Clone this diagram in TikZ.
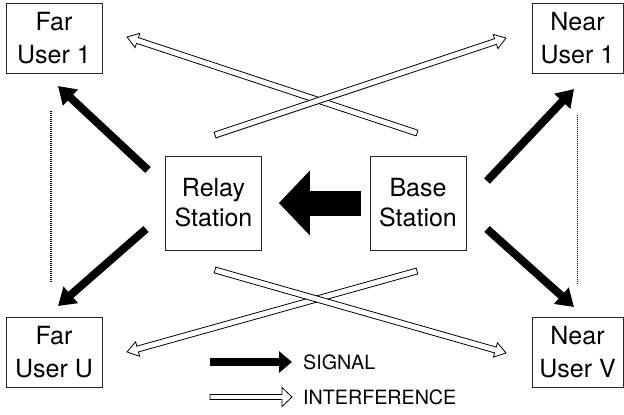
\documentclass[tikz,border=0pt]{standalone}
\usepackage{fontspec}
\setmainfont{TeX Gyre Heros}
\usetikzlibrary{arrows.meta,calc}

\begin{document}
\begin{tikzpicture}[
  x=1bp, y=-1bp,
  box/.style={rectangle, draw=black!85, line width=0.7bp, align=center, inner sep=0pt},
  user/.style={box, minimum height=70bp, font=\fontsize{25bp}{33bp}\selectfont},
  station/.style={box, minimum width=96bp, minimum height=94bp, font=\fontsize{25bp}{30bp}\selectfont},
  sig/.style={line width=8bp, -{Triangle[length=17bp, width=21bp]}},
  bigsig/.style={line width=25bp, -{Triangle[length=31bp, width=63bp]}},
  interf/.style={line width=0.8bp, fill=white, line join=miter},
  dots/.style={line width=1.3bp, dash pattern=on 1bp off 1bp},
  legend/.style={anchor=west, inner sep=0pt, font=\fontsize{19.7bp}{22bp}\selectfont},
]
\useasboundingbox (0,0) rectangle (624,414);

% users and stations
\node[user, minimum width=96bp] (fu1) at (54,38)    {Far\\User 1};
\node[user, minimum width=91bp] (nu1) at (577.5,38) {Near\\User 1};
\node[user, minimum width=96bp] (fuU) at (54,352)   {Far\\User U};
\node[user, minimum width=91bp] (nuV) at (577.5,352){Near\\User V};
\node[station] (rs) at (213.5,203) {Relay\\Station};
\node[station] (bs) at (418,203)   {Base\\Station};

% base -> relay link
\draw[bigsig, shorten <=9bp, shorten >=17bp] (bs.west) -- (rs.east);

% signal ends
\coordinate (rs1) at (148,170); \coordinate (fu1s) at (58,86);
\coordinate (rs2) at (146,229); \coordinate (fuUs) at (58,306);
\coordinate (bs1) at (487,181); \coordinate (nu1s) at (574,89);
\coordinate (bs2) at (487,229); \coordinate (nuVs) at (574,307);
\foreach \a/\b in {rs1/fu1s, rs2/fuUs, bs1/nu1s, bs2/nuVs}
  \draw[sig] (\a) -- (\b);

% interference ends
\coordinate (bs3) at (417,133); \coordinate (fu1i) at (127,37);
\coordinate (rs3) at (215,135); \coordinate (nu1i) at (506,38);
\coordinate (bs4) at (417,271); \coordinate (fuUi) at (127,352);
\coordinate (rs4) at (215,270); \coordinate (nuVi) at (506,353);
\foreach \a/\b in {bs3/fu1i, rs3/nu1i, bs4/fuUi, rs4/nuVi}
  \draw[interf] let \p1=(\a), \p2=(\b), \n1={atan2(\y2-\y1,\x2-\x1)},
      \n2={veclen(\x2-\x1,\y2-\y1)} in
    [shift={(\p1)}, rotate=\n1]
    (0bp,-3bp) -- ({\n2-11bp},-3bp) -- ({\n2-11bp},-7.5bp) -- ({\n2},0bp)
    -- ({\n2-11bp},7.5bp) -- ({\n2-11bp},3bp) -- (0bp,3bp) -- cycle;

% dotted columns of further users
\draw[dots, shorten <=38bp, shorten >=34bp] ([xshift=-3bp]fu1.south) -- ([xshift=-3bp]fuU.north);
\draw[dots, shorten <=42bp, shorten >=32bp] (nu1.south) -- (nuV.north);

% legend
\coordinate (ls0) at (210,362); \coordinate (ls1) at (292,362);
\coordinate (li0) at (210,397); \coordinate (li1) at (292,397);
\draw[sig, -{Triangle[length=13bp, width=21bp]}] (ls0) -- (ls1);
\draw[interf] (210,394.5) -- (282,394.5) -- (282,387.5) -- (li1) -- (282,406.5)
  -- (282,399.5) -- (210,399.5) -- cycle;
\node[legend] (lsig) at (303,362) {SIGNAL};
\node[legend] (lint) at (303,397) {INTERFERENCE};
\end{tikzpicture}
\end{document}
